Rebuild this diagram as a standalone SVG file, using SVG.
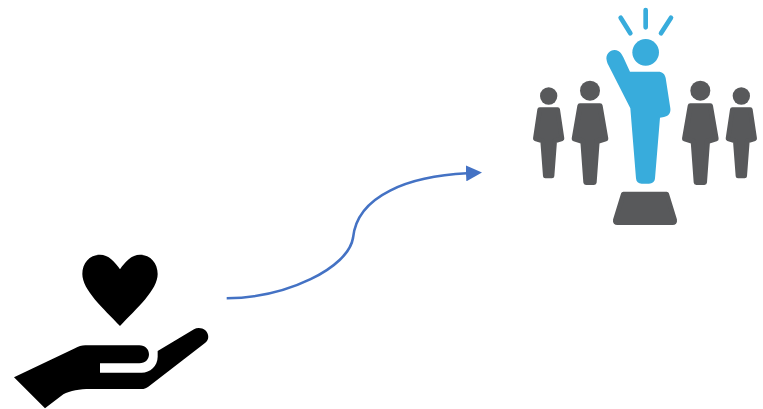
<svg xmlns="http://www.w3.org/2000/svg" width="763" height="409" viewBox="0 0 763 409">
<style>
.k{fill:#000}
.g{fill:#58595b;stroke:#58595b;stroke-linejoin:round}
.b{fill:#38acdc}
.s{stroke:#38acdc;stroke-width:14;stroke-linecap:round;fill:none}
.c{fill:none;stroke:#4472c4;stroke-width:2.6}
</style>
<defs>
<marker id="ah" markerUnits="userSpaceOnUse" markerWidth="16" markerHeight="16" refX="1" refY="8" orient="auto" viewBox="0 0 16 16"><path d="M0 0L16 8L0 16Z" fill="#4472c4"/></marker>
<g id="big"><circle cx="0" cy="-283" r="30" class="g" style="stroke:none"/><path class="g" stroke-width="16" d="M-30 -237H30L47 -139L21 -131L12 -8H-12L-21 -131L-47 -139Z"/></g>
<g id="small"><circle cx="0" cy="-247" r="26" class="g" style="stroke:none"/><path class="g" stroke-width="14" d="M-27 -206H27L40 -119L18 -112L10 -7H-10L-18 -112L-40 -119Z"/></g>
</defs>
<g id="connectors"><path class="c" marker-end="url(#ah)" d="M226.7 298.3C287 297.7 348 268 353 238C357 195 410 176 467 173.3"/></g>
<g id="hand-heart" transform="translate(0 240) scale(.33333)">
<path class="k" d="M360 88C345 65 325 44 300 44C268 44 247 70 247 102C247 150 310 205 360 258C410 205 473 150 473 102C473 70 452 44 420 44C395 44 375 65 360 88Z"/>
<path class="k" d="M42 412L225 325C235 319 245 316 256 316H418C436 316 447 328 447 343C447 358 436 370 418 370H300V398H425C450 398 473 378 473 350V333L582 268C592 262 606 263 616 271C628 283 628 300 615 309L445 440C438 445 432 447 425 447H270C240 447 210 452 190 463L135 505Z"/>
</g>
<g id="crowd" transform="translate(525 0) scale(.33333)">
<use href="#small" x="71" y="535"/>
<use href="#big" x="195" y="555"/>
<use href="#big" x="526" y="555"/>
<use href="#small" x="649" y="535"/>
<g id="leader">
<circle class="b" cx="362" cy="157" r="40"/>
<path class="b" d="M245 181C240 160 262 143 280 153C288 158 291 164 295 172L315 215H400C412 215 420 222 422 234L436 325C438 340 430 349 417 351L405 353L390 535C389 546 382 551 372 551H350C340 551 334 546 333 535L316 325L250 195C247 190 246 186 245 181Z"/>
<path class="s" d="M362 30V82M287 53L316 100M438 53L408 100"/>
</g>
<path id="pedestal" class="g" stroke-width="14" d="M295 582H425L449 660C450 666 447 668 443 668H277C273 668 270 666 271 660Z"/>
</g>
</svg>
